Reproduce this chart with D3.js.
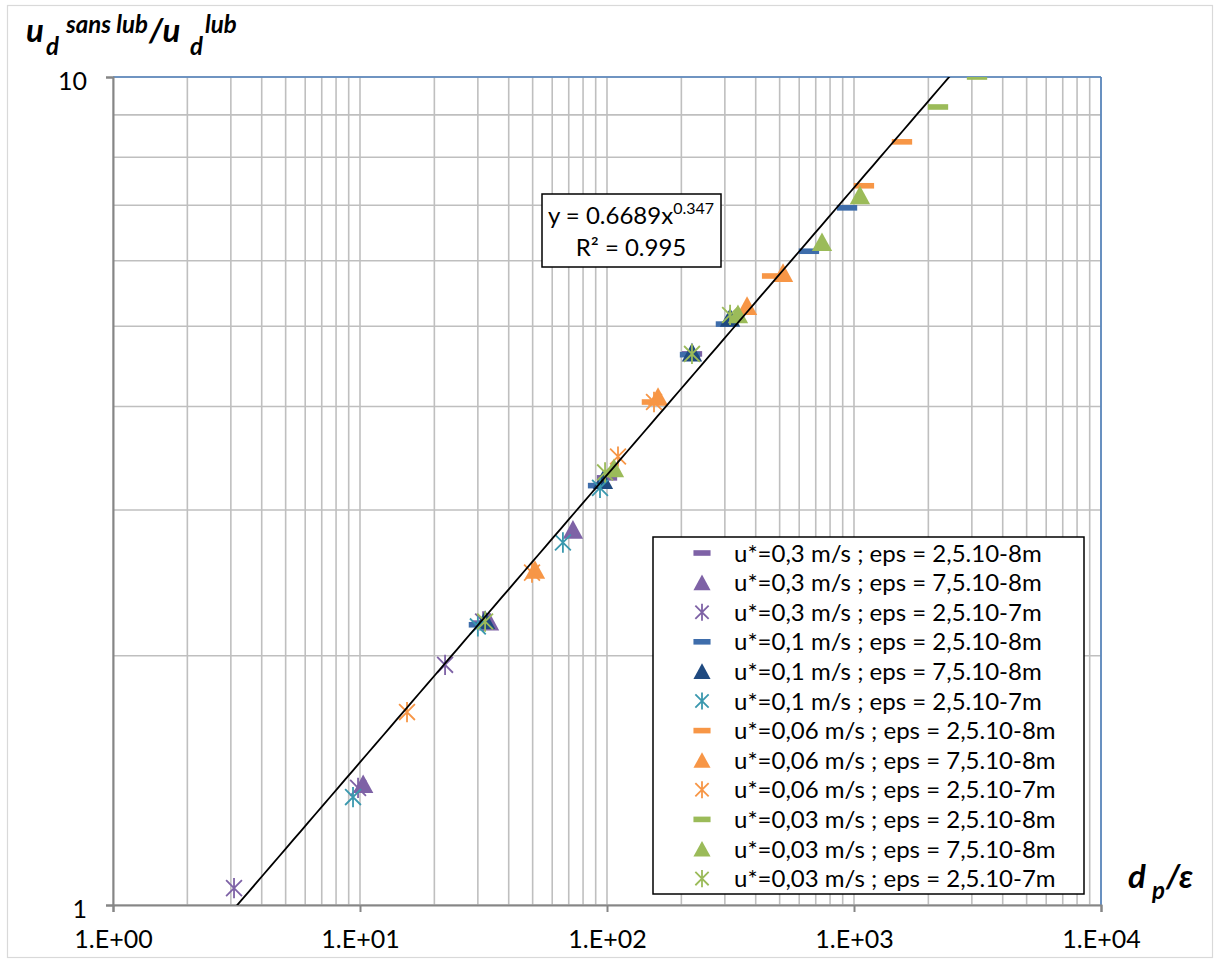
<!DOCTYPE html>
<html><head><meta charset="utf-8">
<script src="https://cdn.jsdelivr.net/npm/d3@7/dist/d3.min.js"></script>
<style>
body{margin:0;background:#fff;}
svg{display:block;font-family:Lato,sans-serif;}
</style></head><body>
<svg id="chart" width="1218" height="961"></svg>
<script>
// ---- data ----
const seriesNames = [
  "u*=0,3 m/s ; eps = 2,5.10-8m","u*=0,3 m/s ; eps = 7,5.10-8m","u*=0,3 m/s ; eps = 2,5.10-7m",
  "u*=0,1 m/s ; eps = 2,5.10-8m","u*=0,1 m/s ; eps = 7,5.10-8m","u*=0,1 m/s ; eps = 2,5.10-7m",
  "u*=0,06 m/s ; eps = 2,5.10-8m","u*=0,06 m/s ; eps = 7,5.10-8m","u*=0,06 m/s ; eps = 2,5.10-7m",
  "u*=0,03 m/s ; eps = 2,5.10-8m","u*=0,03 m/s ; eps = 7,5.10-8m","u*=0,03 m/s ; eps = 2,5.10-7m"];
const seriesShapes = ["dash","triangle","star","dash","triangle","star","dash","triangle","star","dash","triangle","star"];
const seriesColors = ["#7E62A6","#7E62A6","#7E62A6","#3E6DAB","#1F4A80","#3A98AE","#F79646","#F79646","#F79646","#9BBB59","#9BBB59","#9BBB59"];
const s1x=[31.2,100,220.8],            s1y=[2.19,3.28,4.63];
const s2x=[10.3,33.3,72.8],            s2y=[1.40,2.20,2.84];
const s3x=[3.09,9.82,22.1,31.5],       s3y=[1.048,1.385,1.95,2.20];
const s4x=[30.3,92.0,216.8,303,657,937], s4y=[2.18,3.21,4.62,5.03,6.16,6.95];
const s5x=[32.1,96.3,220.8,315],       s5y=[2.21,3.26,4.65,5.12];
const s6x=[9.37,30.0,66.3,93.7],       s6y=[1.35,2.17,2.74,3.19];
const s7x=[152,466,1097,1564],         s7y=[4.05,5.75,7.39,8.35];
const s8x=[51.1,160.9,369,516],        s8y=[2.54,4.11,5.29,5.80];
const s9x=[15.5,49.7,110.8,155],       s9y=[1.71,2.52,3.48,4.05];
const s10x=[2188,3148],                s10y=[9.20,10.0];
const s11x=[106.7,339,742,1057],       s11y=[3.37,5.17,6.32,7.20];
const s12x=[32.1,98.2,220.8,315],      s12y=[2.20,3.33,4.63,5.16];
const allX=[s1x,s2x,s3x,s4x,s5x,s6x,s7x,s8x,s9x,s10x,s11x,s12x];
const allY=[s1y,s2y,s3y,s4y,s5y,s6y,s7y,s8y,s9y,s10y,s11y,s12y];
const xTickValues=[1,10,100,1000,10000];
const xTickLabels=["1.E+00","1.E+01","1.E+02","1.E+03","1.E+04"];
const yTickValues=[1,10];
const yTickLabels=["1","10"];
const fitA=0.6689, fitB=0.347;

// ---- layout ----
const svg=d3.select("#chart");
const L=113,R=1101,T=77,B=905;
const x=d3.scaleLog().domain([1,10000]).range([L,R]);
const y=d3.scaleLog().domain([1,10]).range([B,T]);

svg.append("rect").attr("x",7.5).attr("y",5.5).attr("width",1205).attr("height",952)
  .attr("fill","#fff").attr("stroke","#D9D9D9").attr("stroke-width",1.2);

// gridlines
const g=svg.append("g");
const xGrid=[];
for(let d=1; d<10000; d*=10){ for(let k=1;k<=9;k++){ xGrid.push(d*k);} }
xGrid.push(10000);
g.selectAll(".xg").data(xGrid).join("line")
  .attr("x1",d=>x(d)).attr("x2",d=>x(d)).attr("y1",T).attr("y2",B)
  .attr("stroke","#BFBFBF").attr("stroke-width",1.6);
const yGrid=d3.range(1,11);
g.selectAll(".yg").data(yGrid).join("line")
  .attr("x1",L).attr("x2",R).attr("y1",d=>y(d)).attr("y2",d=>y(d))
  .attr("stroke","#BFBFBF").attr("stroke-width",1.6);

svg.append("line").attr("x1",L).attr("x2",R).attr("y1",T).attr("y2",T).attr("stroke","#4F81BD").attr("stroke-width",1.6);
svg.append("line").attr("x1",R).attr("x2",R).attr("y1",T).attr("y2",B).attr("stroke","#4F81BD").attr("stroke-width",1.6);

// axes
const xAxis=d3.axisBottom(x).tickValues(xTickValues).tickSize(7).tickFormat((d,i)=>xTickLabels[i]).tickPadding(18);
const yAxis=d3.axisLeft(y).tickValues(yTickValues).tickSize(7).tickFormat((d,i)=>yTickLabels[i]).tickPadding(19);
const gx=svg.append("g").attr("transform",`translate(0,${B})`).call(xAxis);
const gy=svg.append("g").attr("transform",`translate(${L},0)`).call(yAxis);
[gx,gy].forEach(a=>{
  a.select(".domain").attr("stroke","#868686").attr("stroke-width",2);
  a.selectAll(".tick line").attr("stroke","#868686").attr("stroke-width",2);
  a.selectAll(".tick text").attr("fill","#000").style("font-size","25px").style("font-family","Lato,sans-serif");
});
gy.selectAll(".tick text").attr("dy","0.48em");

svg.append("clipPath").attr("id","clip").append("rect").attr("x",L).attr("y",T).attr("width",R-L).attr("height",B-T);

// trend line
const xMin=d3.min(allX.flat()), xMax=d3.max(allX.flat());
const fitPts=d3.range(0,101).map(i=>{const lx=Math.log10(xMin)+(Math.log10(xMax)-Math.log10(xMin))*i/100; const xv=Math.pow(10,lx); return [xv, fitA*Math.pow(xv,fitB)];});

function drawMarker(sel,shape,color,s){
  if(shape==="dash"){
    sel.append("rect").attr("x",-9*s).attr("y",-2.8).attr("width",18*s).attr("height",5.6).attr("fill",color);
  } else if(shape==="triangle"){
    sel.append("path").attr("d",`M0,${-8.5*s}L${9*s},${8*s}L${-9*s},${8*s}Z`).attr("fill",color);
  } else {
    const a=7*s,b=9*s;
    sel.append("path").attr("d",`M${-a},${-a}L${a},${a}M${-a},${a}L${a},${-a}M0,${-b}L0,${b}`).attr("stroke",color).attr("stroke-width",1.8).attr("fill","none");
  }
}
const pts=svg.append("g").attr("clip-path","url(#clip)");
allX.forEach((xs,i)=>{
  xs.forEach((xv,j)=>{
    const m=pts.append("g").attr("transform",`translate(${x(xv)},${y(allY[i][j])})`);
    drawMarker(m,seriesShapes[i],seriesColors[i],1.13);
  });
});
svg.append("path").datum(fitPts).attr("clip-path","url(#clip)")
  .attr("d",d3.line().x(d=>x(d[0])).y(d=>y(d[1])))
  .attr("fill","none").attr("stroke","#000").attr("stroke-width",1.8);

// equation box
const eq=svg.append("g");
eq.append("rect").attr("x",542).attr("y",194).attr("width",179).attr("height",73).attr("fill","#fff").attr("stroke","#000").attr("stroke-width",1.5);
const t1=eq.append("text").attr("x",631).attr("y",224).attr("text-anchor","middle").style("font-size","24px");
t1.append("tspan").text("y = 0.6689x");
t1.append("tspan").attr("dy",-10).style("font-size","16px").text("0.347");
eq.append("text").attr("x",631).attr("y",256).attr("text-anchor","middle").style("font-size","24px").text("R² = 0.995");

// legend
const lg=svg.append("g");
lg.append("rect").attr("x",653).attr("y",537).attr("width",431).attr("height",357).attr("fill","#fff").attr("stroke","#000").attr("stroke-width",1.5);
seriesNames.forEach((n,i)=>{
  const cy=553+i*29.6;
  const m=lg.append("g").attr("transform",`translate(702,${cy})`);
  drawMarker(m,seriesShapes[i],seriesColors[i],0.95);
  lg.append("text").attr("x",734).attr("y",cy).attr("dy","0.36em").style("font-size","24px").text(n);
});

// axis titles
const tf='font-weight:bold;font-style:italic;font-family:Lato,sans-serif;';
svg.append("text").attr("x",26).attr("y",42).attr("style",tf+"font-size:33px").text("u");
svg.append("text").attr("x",46).attr("y",55).attr("style",tf+"font-size:24px").text("d");
svg.append("text").attr("x",66).attr("y",33).attr("style",tf+"font-size:24px").text("sans lub");
svg.append("text").attr("x",149).attr("y",42).attr("style",tf+"font-size:33px").text("/u");
svg.append("text").attr("x",190).attr("y",55).attr("style",tf+"font-size:24px").text("d");
svg.append("text").attr("x",205).attr("y",33).attr("style",tf+"font-size:24px").text("lub");

svg.append("text").attr("x",1128).attr("y",888).attr("style",tf+"font-size:33px").text("d");
svg.append("text").attr("x",1152).attr("y",899).attr("style",tf+"font-size:24px").text("p");
svg.append("text").attr("x",1166).attr("y",888).attr("style",tf+"font-size:33px").text("/ε");
</script></body></html>
